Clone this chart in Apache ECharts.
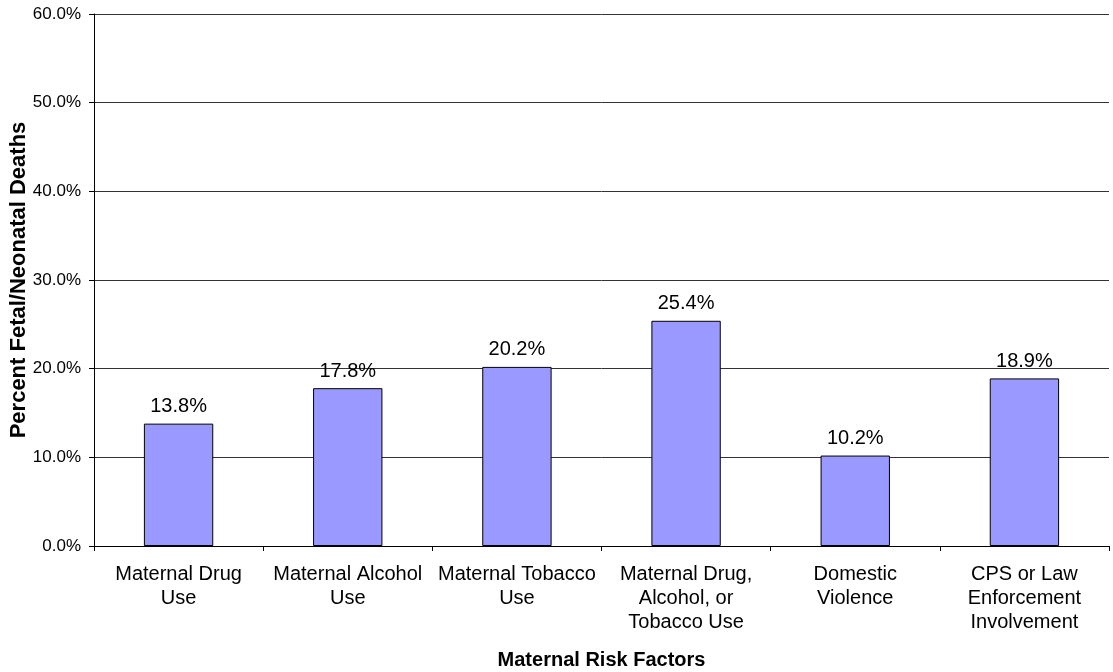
<!DOCTYPE html>
<html>
<head>
<meta charset="utf-8">
<script src="https://cdn.jsdelivr.net/npm/echarts@6/dist/echarts.min.js"></script>
<style>
  html, body { margin: 0; padding: 0; background: #fff; }
  #chart { width: 1113px; height: 672px; }
</style>
</head>
<body>
<div id="chart"></div>
<script>
// Risk factor categories (line breaks as they wrap under the axis)
const categories = [
  'Maternal Drug\nUse',
  'Maternal Alcohol\nUse',
  'Maternal Tobacco\nUse',
  'Maternal Drug,\nAlcohol, or\nTobacco Use',
  'Domestic\nViolence',
  'CPS or Law\nEnforcement\nInvolvement'
];
// Percent of fetal/neonatal deaths with each factor
const percentDeaths = [13.8, 17.8, 20.2, 25.4, 10.2, 18.9];
// Value axis range and step (percent)
const yTicks = { min: 0, max: 60, step: 10 };

const FONT = '"Liberation Sans", Arial, Helvetica, sans-serif';
const chart = echarts.init(document.getElementById('chart'), null, { renderer: 'canvas' });

chart.setOption({
  backgroundColor: '#ffffff',
  animation: false,
  textStyle: { fontFamily: FONT, color: '#000' },
  grid: {
    left: 94, right: 4, top: 14, bottom: 126,
    containLabel: false,
    outerBoundsMode: 'none'
  },
  xAxis: {
    type: 'category',
    data: categories,
    name: 'Maternal Risk Factors',
    nameLocation: 'middle',
    nameGap: 104,
    nameMoveOverlap: false,
    nameTextStyle: { fontFamily: FONT, fontSize: 20, fontWeight: 'bold', color: '#000' },
    axisLine: { lineStyle: { color: '#000', width: 1 } },
    axisTick: { show: true, alignWithLabel: false, length: 5, lineStyle: { color: '#000' } },
    axisLabel: {
      interval: 0,
      margin: 16,
      fontFamily: FONT,
      fontSize: 20,
      lineHeight: 24,
      color: '#000',
      align: 'center'
    },
    splitLine: { show: false }
  },
  yAxis: {
    type: 'value',
    min: yTicks.min,
    max: yTicks.max,
    interval: yTicks.step,
    name: 'Percent Fetal/Neonatal Deaths',
    nameLocation: 'middle',
    nameRotate: 90,
    nameGap: 64,
    nameMoveOverlap: false,
    nameTextStyle: { fontFamily: FONT, fontSize: 22, fontWeight: 'bold', color: '#000' },
    axisLine: { show: true, lineStyle: { color: '#000', width: 1 } },
    axisTick: { show: true, length: 5, lineStyle: { color: '#000' } },
    axisLabel: {
      margin: 13,
      fontFamily: FONT,
      fontSize: 17,
      color: '#000',
      formatter: v => v.toFixed(1) + '%'
    },
    splitLine: { show: true, lineStyle: { color: '#333333', width: 1 } }
  },
  series: [{
    type: 'bar',
    data: percentDeaths,
    barWidth: '41%',
    itemStyle: { color: '#9999ff', borderColor: '#000', borderWidth: 1 },
    label: {
      show: true,
      position: 'top',
      distance: 7,
      fontFamily: FONT,
      fontSize: 20,
      color: '#000',
      formatter: p => p.value.toFixed(1) + '%'
    }
  }]
});
</script>
</body>
</html>
